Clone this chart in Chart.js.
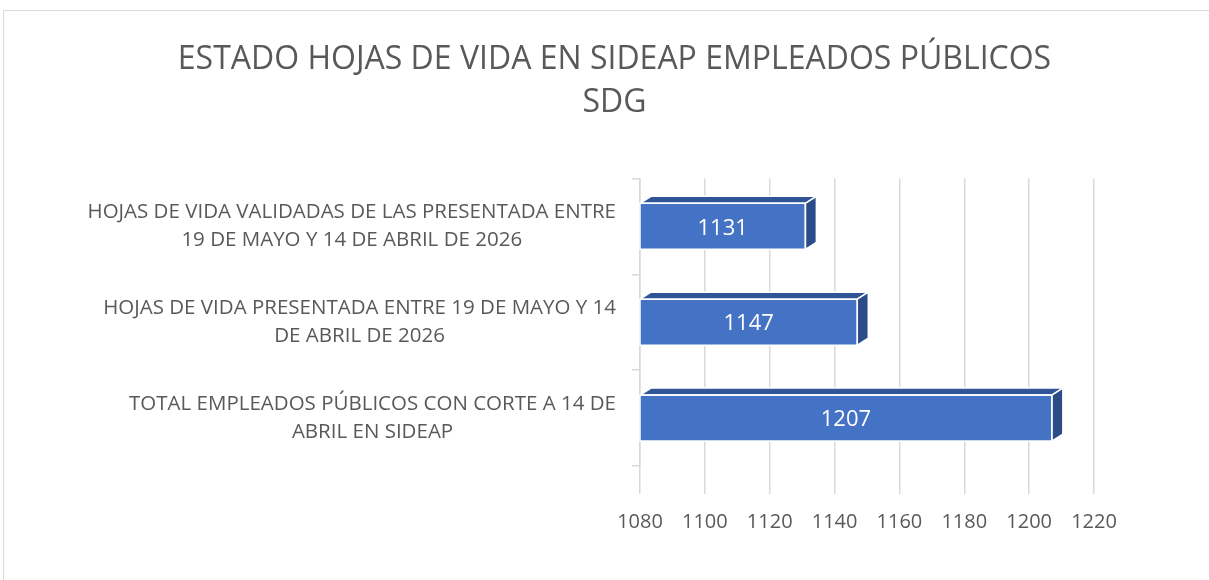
<!DOCTYPE html>
<html><head><meta charset="utf-8">
<script src="https://cdn.jsdelivr.net/npm/chart.js@4"></script>
<style>
html,body{margin:0;padding:0;background:#fff;}
#wrap{position:absolute;left:0;top:0;width:1209px;height:580px;}
#frame{position:absolute;left:3px;top:10px;width:1220px;height:600px;border:1px solid #d9d9d9;box-sizing:border-box;}
</style></head>
<body>
<div id="frame"></div>
<div id="wrap"><canvas id="c" width="1209" height="580"></canvas></div>
<script>
const titleLines = ["ESTADO HOJAS DE VIDA EN SIDEAP EMPLEADOS PÚBLICOS", "SDG"];
const categories = [
  ["HOJAS DE VIDA VALIDADAS DE LAS PRESENTADA ENTRE", "19 DE MAYO Y 14 DE ABRIL DE 2026"],
  ["HOJAS DE VIDA PRESENTADA ENTRE 19 DE MAYO Y 14", "DE ABRIL DE 2026"],
  ["TOTAL EMPLEADOS PÚBLICOS CON CORTE A 14 DE", "ABRIL EN SIDEAP"]
];
const values = [1131, 1147, 1207];
const xMin = 1080, xMax = 1220, xStep = 20;

const GRAY = '#595959';
const FONT = '"Open Sans", "DejaVu Sans", sans-serif';

const bar3d = {
  id: 'bar3d',
  afterDatasetsDraw(chart) {
    const ctx = chart.ctx;
    const meta = chart.getDatasetMeta(0);
    const area = chart.chartArea;
    const dx = 11, dy = -7;
    meta.data.forEach((el, i) => {
      const p = el.getProps(['x','y','base','height'], true);
      const l = Math.max(Math.min(p.base, p.x), area.left), r = p.x;
      const t = p.y - p.height/2, b = p.y + p.height/2;
      ctx.save();
      ctx.lineJoin = 'round';
      ctx.strokeStyle = '#ffffff';
      ctx.lineWidth = 1.5;
      ctx.beginPath();
      ctx.moveTo(l, t); ctx.lineTo(l+dx, t+dy); ctx.lineTo(r+dx, t+dy); ctx.lineTo(r, t); ctx.closePath();
      ctx.fillStyle = '#2F5597'; ctx.fill(); ctx.stroke();
      ctx.beginPath();
      ctx.moveTo(r, t); ctx.lineTo(r+dx, t+dy); ctx.lineTo(r+dx, b+dy); ctx.lineTo(r, b); ctx.closePath();
      ctx.fillStyle = '#2B4C88'; ctx.fill(); ctx.stroke();
      ctx.strokeRect(l, t, r-l, b-t);
      ctx.fillStyle = '#ffffff';
      ctx.font = '22px ' + FONT;
      ctx.textAlign = 'center';
      ctx.textBaseline = 'middle';
      ctx.fillText(String(values[i]), (l+r)/2, p.y + 2);
      ctx.restore();
    });
  }
};

const catLabels = {
  id: 'catLabels',
  afterDraw(chart) {
    const ctx = chart.ctx;
    const ys = chart.scales.y;
    const right = 616;
    ctx.save();
    ctx.font = '20.5px ' + FONT;
    ctx.fillStyle = GRAY;
    ctx.textAlign = 'center';
    ctx.textBaseline = 'middle';
    const lh = 28;
    categories.forEach((lines, i) => {
      const w = Math.max(...lines.map(s => ctx.measureText(s).width));
      const cx = right - w/2;
      const cy = ys.getPixelForValue(i);
      lines.forEach((s, k) => {
        ctx.fillText(s, cx, cy + (k - (lines.length-1)/2) * lh);
      });
    });
    ctx.restore();
  }
};

new Chart(document.getElementById('c'), {
  type: 'bar',
  data: {
    labels: categories,
    datasets: [{
      data: values,
      backgroundColor: '#4472C4',
      borderWidth: 0,
      barPercentage: 0.48,
      categoryPercentage: 1.0
    }]
  },
  options: {
    indexAxis: 'y',
    responsive: false,
    animation: false,
    layout: { padding: { left: 135, right: 115, top: 10, bottom: 0 } },
    plugins: {
      legend: { display: false },
      tooltip: { enabled: false },
      title: {
        display: true,
        text: titleLines,
        color: GRAY,
        font: { family: FONT, size: 32, weight: 'normal', lineHeight: 1.35 },
        padding: { top: 28, bottom: 54 }
      }
    },
    scales: {
      x: {
        type: 'linear',
        min: xMin, max: xMax,
        ticks: { stepSize: xStep, color: GRAY, font: { family: FONT, size: 20 }, padding: 16,
                 callback: v => String(v) },
        grid: { color: '#d9d9d9', lineWidth: 1.5, tickLength: 28, drawTicks: true },
        border: { display: false },
        afterFit(s) { s.height = 114; }
      },
      y: {
        type: 'category',
        ticks: { display: true, color: 'rgba(0,0,0,0)', font: { family: FONT, size: 1 } },
        grid: { display: true, drawOnChartArea: false, color: '#d9d9d9', tickLength: 8, lineWidth: 1.5 },
        border: { display: true, color: '#d9d9d9', width: 1.5 },
        afterFit(s) { s.width = 505; }
      }
    }
  },
  plugins: [bar3d, catLabels]
});
</script>
</body></html>
